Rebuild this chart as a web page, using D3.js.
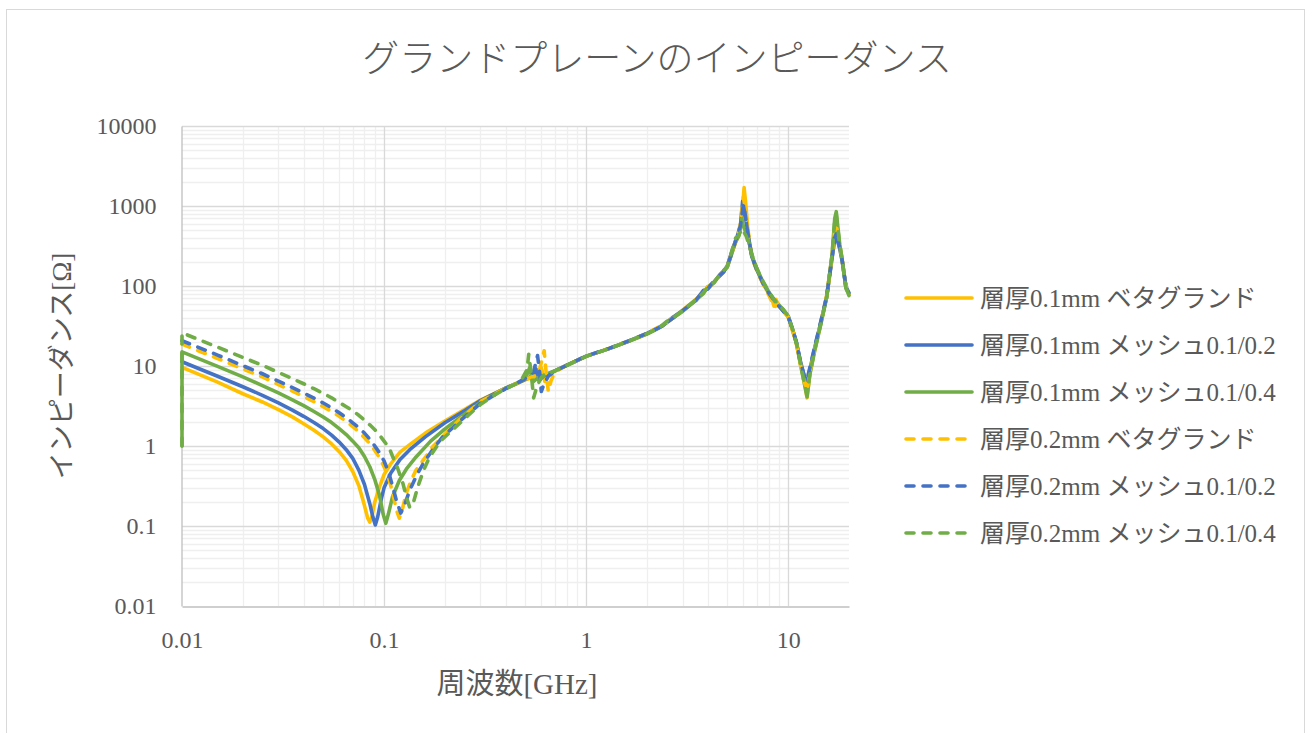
<!DOCTYPE html>
<html>
<head>
<meta charset="utf-8">
<script src="https://cdn.jsdelivr.net/npm/d3@7"></script>
<style>
  html, body { margin: 0; padding: 0; background: #ffffff; }
  svg { display: block; }
  text { font-family: 'Liberation Serif', 'Noto Sans CJK JP', serif; fill: #595959; }
</style>
</head>
<body>
<svg id="chart" width="1309" height="733"></svg>
<script>
// Chart text
const chartTitle = "グランドプレーンのインピーダンス";
const xTitle = "周波数[GHz]";
const yTitle = "インピーダンス[Ω]";

// Axis ticks
const freqTicks = [0.01, 0.1, 1, 10];
const freqTickLabels = ["0.01", "0.1", "1", "10"];
const impTicks = [0.01, 0.1, 1, 10, 100, 1000, 10000];
const impTickLabels = ["0.01", "0.1", "1", "10", "100", "1000", "10000"];

// Series names and colours
const seriesNames = [
  "層厚0.1mm ベタグランド",
  "層厚0.1mm メッシュ0.1/0.2",
  "層厚0.1mm メッシュ0.1/0.4",
  "層厚0.2mm ベタグランド",
  "層厚0.2mm メッシュ0.1/0.2",
  "層厚0.2mm メッシュ0.1/0.4"
];
const seriesColors = ["#FFC000", "#4472C4", "#70AD47", "#FFC000", "#4472C4", "#70AD47"];
const seriesDashed = [false, false, false, true, true, true];

// Impedance [Ω] vs frequency [GHz], one array per board
const solidBeta01 = [[0.01,9.6],[0.015,6.3],[0.02,4.5],[0.025,3.55],[0.03,2.85],[0.035,2.33],[0.04,1.9],[0.045,1.57],[0.05,1.3],[0.055,1.06],[0.06,0.85],[0.065,0.66],[0.07,0.48],[0.075,0.32],[0.08,0.18],[0.083,0.125],[0.085,0.112],[0.087,0.13],[0.09,0.2],[0.095,0.31],[0.1,0.44],[0.108,0.6],[0.12,0.84],[0.134,1.04],[0.16,1.45],[0.2,2.05],[0.25,2.85],[0.3,3.75],[0.35,4.5],[0.4,5.3],[0.45,6.0],[0.5,6.7],[0.56,7.4],[0.6,9.5],[0.625,6.4],[0.66,7.9],[0.7,8.6],[0.8,10.2],[1.0,13.2],[1.3,16.6],[1.6,20],[2.0,25.3],[2.4,32],[2.7,40],[3.0,50],[3.5,68],[3.8,82],[4.0,96],[4.3,112],[4.6,135],[5.0,175],[5.3,270],[5.6,400],[5.8,520],[5.95,950],[6.05,1700],[6.15,1150],[6.3,560],[6.45,330],[6.6,240],[7.0,158],[7.5,108],[8.0,80],[8.3,70],[8.5,56],[8.7,68],[9.0,56],[9.5,48],[10,41],[10.5,28],[11,19],[11.5,10.8],[12,6.5],[12.4,4.0],[12.8,8],[13.5,15.8],[14.5,34],[15.5,75],[16.5,240],[17.0,560],[17.3,650],[17.6,420],[18.0,310],[18.5,210],[19.3,100],[20,78]];

const solidMesh02 = [[0.01,11.3],[0.015,7.45],[0.02,5.5],[0.025,4.3],[0.03,3.45],[0.035,2.83],[0.04,2.35],[0.045,1.97],[0.05,1.65],[0.055,1.37],[0.06,1.12],[0.065,0.9],[0.07,0.7],[0.075,0.5],[0.08,0.33],[0.085,0.19],[0.088,0.13],[0.0905,0.103],[0.093,0.13],[0.097,0.22],[0.1,0.3],[0.108,0.46],[0.12,0.68],[0.134,0.9],[0.16,1.3],[0.2,1.95],[0.25,2.75],[0.3,3.7],[0.35,4.5],[0.4,5.3],[0.45,6.0],[0.5,6.8],[0.545,7.6],[0.565,9.2],[0.585,6.6],[0.62,7.6],[0.7,8.7],[0.8,10.2],[1.0,13.3],[1.3,16.5],[1.6,20.2],[2.0,25.5],[2.4,32],[2.7,41],[3.0,49],[3.5,66],[3.8,88],[4.0,92],[4.2,105],[4.5,128],[4.8,150],[5.0,180],[5.3,285],[5.6,420],[5.8,560],[5.95,1150],[6.05,900],[6.2,620],[6.35,420],[6.6,235],[7.0,160],[7.5,110],[8.0,84],[8.5,68],[9.0,57],[9.5,48],[10,42],[10.5,29],[11,19.5],[11.5,11.5],[12,7.5],[12.4,6.0],[12.8,9],[13.5,16.5],[14.5,35],[15.5,72],[16.5,225],[17.0,380],[17.3,430],[17.6,360],[18.0,290],[18.5,205],[19.3,98],[20,82]];

const solidMesh04 = [[0.01,1],[0.01,15],[0.015,9.9],[0.02,7.3],[0.025,5.7],[0.03,4.6],[0.035,3.8],[0.04,3.2],[0.045,2.7],[0.05,2.3],[0.055,1.96],[0.06,1.65],[0.065,1.39],[0.07,1.15],[0.075,0.95],[0.08,0.74],[0.085,0.55],[0.09,0.38],[0.095,0.24],[0.099,0.14],[0.102,0.108],[0.105,0.14],[0.11,0.23],[0.119,0.37],[0.13,0.53],[0.144,0.73],[0.17,1.15],[0.195,1.55],[0.25,2.5],[0.3,3.5],[0.35,4.4],[0.4,5.3],[0.45,6.0],[0.5,6.9],[0.525,9.5],[0.545,6.3],[0.58,7.2],[0.7,8.7],[0.8,10.1],[1.0,13.2],[1.3,16.5],[1.6,20],[2.0,25],[2.3,30],[2.5,35],[2.7,40],[3.0,48],[3.5,67],[3.8,80],[4.0,98],[4.3,110],[4.6,140],[5.0,172],[5.3,270],[5.5,360],[5.7,420],[5.9,700],[6.0,560],[6.15,480],[6.3,400],[6.5,300],[6.7,220],[7.0,165],[7.5,112],[8.0,85],[8.5,66],[9.0,58],[9.5,50],[10,42],[10.5,29],[11,19],[11.5,10.5],[12,6.2],[12.4,4.1],[12.8,7.8],[13.5,15],[14.5,33],[15.5,72],[16.5,250],[17.0,700],[17.3,850],[17.6,560],[18.0,330],[18.5,215],[19.3,95],[20,76]];

const dashBeta02 = [[0.01,18.8],[0.015,12.4],[0.02,9.2],[0.025,7.3],[0.03,5.85],[0.035,4.9],[0.04,4.15],[0.045,3.58],[0.05,3.1],[0.055,2.7],[0.06,2.35],[0.065,2.03],[0.07,1.75],[0.075,1.5],[0.08,1.27],[0.085,1.07],[0.09,0.88],[0.095,0.71],[0.1,0.55],[0.105,0.41],[0.11,0.27],[0.115,0.16],[0.119,0.125],[0.123,0.16],[0.129,0.26],[0.136,0.37],[0.144,0.5],[0.16,0.72],[0.174,0.98],[0.2,1.4],[0.235,2.1],[0.3,3.6],[0.35,4.4],[0.4,5.3],[0.45,6.0],[0.5,6.8],[0.58,7.8],[0.6,11],[0.62,15.5],[0.635,8],[0.65,4.8],[0.67,6.5],[0.7,8.4],[0.8,10.2],[1.0,13.2],[1.3,16.6],[1.6,20.3],[2.0,25.5],[2.4,33],[2.7,40],[3.0,49],[3.5,68],[3.8,84],[4.0,97],[4.3,108],[4.6,138],[5.0,178],[5.3,280],[5.6,410],[5.8,600],[6.0,1300],[6.1,1000],[6.25,560],[6.4,400],[6.6,230],[7.0,155],[7.5,106],[8.0,78],[8.4,60],[8.6,54],[8.8,62],[9.0,55],[9.5,49],[10,41],[10.5,28],[11,18.5],[11.5,10.5],[12,6.4],[12.4,5.0],[12.8,8.3],[13.5,16],[14.5,35],[15.5,74],[16.5,230],[17.0,500],[17.3,600],[17.6,430],[18.0,300],[18.5,212],[19.3,100],[20,84]];

const dashMesh02 = [[0.01,20.7],[0.015,13.7],[0.02,10.1],[0.025,8.0],[0.03,6.45],[0.035,5.4],[0.04,4.6],[0.045,3.98],[0.05,3.45],[0.055,3.0],[0.06,2.6],[0.065,2.26],[0.07,1.95],[0.075,1.69],[0.08,1.45],[0.085,1.22],[0.09,1.0],[0.095,0.82],[0.1,0.65],[0.105,0.48],[0.11,0.32],[0.115,0.21],[0.121,0.145],[0.127,0.19],[0.134,0.28],[0.145,0.43],[0.156,0.6],[0.175,0.92],[0.195,1.3],[0.24,2.1],[0.3,3.4],[0.35,4.3],[0.4,5.2],[0.45,6.0],[0.5,7.0],[0.55,8.5],[0.575,13.5],[0.59,8],[0.6,4.8],[0.62,6.0],[0.65,7.5],[0.7,8.6],[0.8,10.2],[1.0,13.3],[1.3,16.6],[1.6,20.3],[2.0,25.5],[2.4,32],[2.7,40],[3.0,49],[3.5,67],[3.8,86],[4.0,92],[4.2,108],[4.5,130],[4.8,152],[5.0,178],[5.3,275],[5.6,430],[5.8,560],[6.0,1050],[6.1,850],[6.25,540],[6.4,380],[6.6,235],[7.0,158],[7.5,109],[8.0,82],[8.5,67],[9.0,56],[9.5,48],[10,41],[10.5,29],[11,19.5],[11.5,11.2],[12,7.6],[12.4,6.8],[12.8,9.5],[13.5,17],[14.5,36],[15.5,74],[16.5,230],[17.0,400],[17.3,450],[17.6,380],[18.0,300],[18.5,210],[19.3,100],[20,86]];

const dashMesh04 = [[0.01,1],[0.01,26],[0.015,17.2],[0.02,12.8],[0.025,10.2],[0.03,8.3],[0.035,7.0],[0.04,6.0],[0.045,5.2],[0.05,4.55],[0.055,4.0],[0.06,3.5],[0.065,3.1],[0.07,2.75],[0.075,2.42],[0.08,2.1],[0.085,1.84],[0.09,1.6],[0.095,1.37],[0.1,1.15],[0.106,0.95],[0.11,0.75],[0.117,0.52],[0.124,0.34],[0.129,0.23],[0.134,0.17],[0.14,0.2],[0.147,0.31],[0.157,0.5],[0.168,0.73],[0.19,1.15],[0.219,1.6],[0.26,2.4],[0.3,3.3],[0.35,4.3],[0.4,5.2],[0.45,6.0],[0.48,6.8],[0.51,9],[0.52,14],[0.535,8],[0.55,4.0],[0.57,5.5],[0.6,7.2],[0.63,7.7],[0.7,8.7],[0.8,10.2],[1.0,13.2],[1.3,16.5],[1.6,20.2],[2.0,25.3],[2.3,30],[2.5,36],[2.7,40],[3.0,49],[3.5,68],[3.8,82],[4.0,97],[4.3,112],[4.6,140],[5.0,175],[5.3,290],[5.5,400],[5.7,430],[5.9,520],[6.05,470],[6.2,420],[6.4,330],[6.6,250],[6.8,200],[7.0,165],[7.5,115],[8.0,86],[8.5,68],[9.0,58],[9.5,50],[10,42],[10.5,29],[11,19],[11.5,10.8],[12,6.3],[12.4,4.5],[12.8,8],[13.5,15.5],[14.5,34],[15.5,72],[16.5,245],[17.0,650],[17.3,780],[17.6,520],[18.0,330],[18.5,215],[19.3,95],[20,76]];

const seriesData = [solidBeta01, solidMesh02, solidMesh04, dashBeta02, dashMesh02, dashMesh04];

// Layout
const plot = { left: 182, right: 849, top: 126, bottom: 606 };

const svg = d3.select("#chart");

// outer chart frame
svg.append("rect")
  .attr("x", 6.5).attr("y", 9.5)
  .attr("width", 1298).attr("height", 740)
  .attr("fill", "#ffffff")
  .attr("stroke", "#d9d9d9").attr("stroke-width", 1);

const x = d3.scaleLog().domain([0.01, 20]).range([plot.left, plot.right]);
const y = d3.scaleLog().domain([0.01, 10000]).range([plot.bottom, plot.top]);

// minor grid values (2..9 in each decade)
const minorX = [];
for (let d = 0.01; d < 20; d *= 10) {
  for (let k = 2; k <= 9; k++) { const v = d * k; if (v < 20) minorX.push(v); }
}
const minorY = [];
for (let d = 0.01; d < 10000; d *= 10) {
  for (let k = 2; k <= 9; k++) minorY.push(d * k);
}

const grid = svg.append("g");
grid.selectAll("line.mx").data(minorX).join("line")
  .attr("x1", d => Math.round(x(d)) + 0.5).attr("x2", d => Math.round(x(d)) + 0.5)
  .attr("y1", plot.top).attr("y2", plot.bottom)
  .attr("stroke", "#efefef").attr("stroke-width", 1.3);
grid.selectAll("line.my").data(minorY).join("line")
  .attr("y1", d => Math.round(y(d)) + 0.5).attr("y2", d => Math.round(y(d)) + 0.5)
  .attr("x1", plot.left).attr("x2", plot.right)
  .attr("stroke", "#efefef").attr("stroke-width", 1.3);
grid.selectAll("line.Mx").data(freqTicks.slice(1)).join("line")
  .attr("x1", d => Math.round(x(d)) + 0.5).attr("x2", d => Math.round(x(d)) + 0.5)
  .attr("y1", plot.top).attr("y2", plot.bottom)
  .attr("stroke", "#d9d9d9").attr("stroke-width", 1.3);
grid.selectAll("line.My").data(impTicks.slice(1)).join("line")
  .attr("y1", d => Math.round(y(d)) + 0.5).attr("y2", d => Math.round(y(d)) + 0.5)
  .attr("x1", plot.left).attr("x2", plot.right)
  .attr("stroke", "#d9d9d9").attr("stroke-width", 1.3);

// axes
const xAxis = d3.axisBottom(x).tickValues(freqTicks)
  .tickFormat((d, i) => freqTickLabels[i]).tickSize(0).tickPadding(24);
const yAxis = d3.axisLeft(y).tickValues(impTicks)
  .tickFormat((d, i) => impTickLabels[i]).tickSize(0).tickPadding(25);

const gx = svg.append("g").attr("transform", `translate(0,${plot.bottom + 0.5})`).call(xAxis);
const gy = svg.append("g").attr("transform", `translate(${plot.left - 0.5},0)`).call(yAxis);
[gx, gy].forEach(g => {
  g.select(".domain").attr("stroke", "#bfbfbf").attr("stroke-width", 1.3);
  g.selectAll("text").attr("font-size", 24)
    .style("font-family", "'Liberation Serif', serif").attr("fill", "#595959");
});

// series lines
const line = d3.line()
  .x(d => x(d[0])).y(d => y(d[1]));

svg.append("clipPath").attr("id", "plotclip")
  .append("rect").attr("x", plot.left - 4).attr("y", plot.top - 4)
  .attr("width", plot.right - plot.left + 8).attr("height", plot.bottom - plot.top + 8);

const lines = svg.append("g").attr("clip-path", "url(#plotclip)");
seriesData.forEach((data, i) => {
  lines.append("path")
    .datum(data)
    .attr("d", line)
    .attr("fill", "none")
    .attr("stroke", seriesColors[i])
    .attr("stroke-width", 3.6)
    .attr("stroke-linejoin", "round")
    .attr("stroke-linecap", "round")
    .attr("stroke-dasharray", seriesDashed[i] ? "8,9" : null);
});

// title
svg.append("text")
  .attr("x", 657).attr("y", 72)
  .attr("text-anchor", "middle")
  .attr("font-size", 37)
  .attr("font-weight", 300)
  .text(chartTitle);

// axis titles
svg.append("text")
  .attr("x", 517).attr("y", 694)
  .attr("text-anchor", "middle")
  .attr("font-size", 29)
  .text(xTitle);

svg.append("text")
  .attr("transform", "translate(71,366) rotate(-90)")
  .attr("text-anchor", "middle")
  .attr("font-size", 27)
  .text(yTitle);

// legend
const legend = svg.append("g");
seriesNames.forEach((name, i) => {
  const ly = 298 + i * 47;
  legend.append("line")
    .attr("x1", 906).attr("x2", 972)
    .attr("y1", ly).attr("y2", ly)
    .attr("stroke", seriesColors[i])
    .attr("stroke-width", 3.6)
    .attr("stroke-linecap", "round")
    .attr("stroke-dasharray", seriesDashed[i] ? "8,9" : null);
  legend.append("text")
    .attr("x", 980).attr("y", ly)
    .attr("dy", "0.36em")
    .attr("font-size", 25)
    .text(name);
});
</script>
</body>
</html>
